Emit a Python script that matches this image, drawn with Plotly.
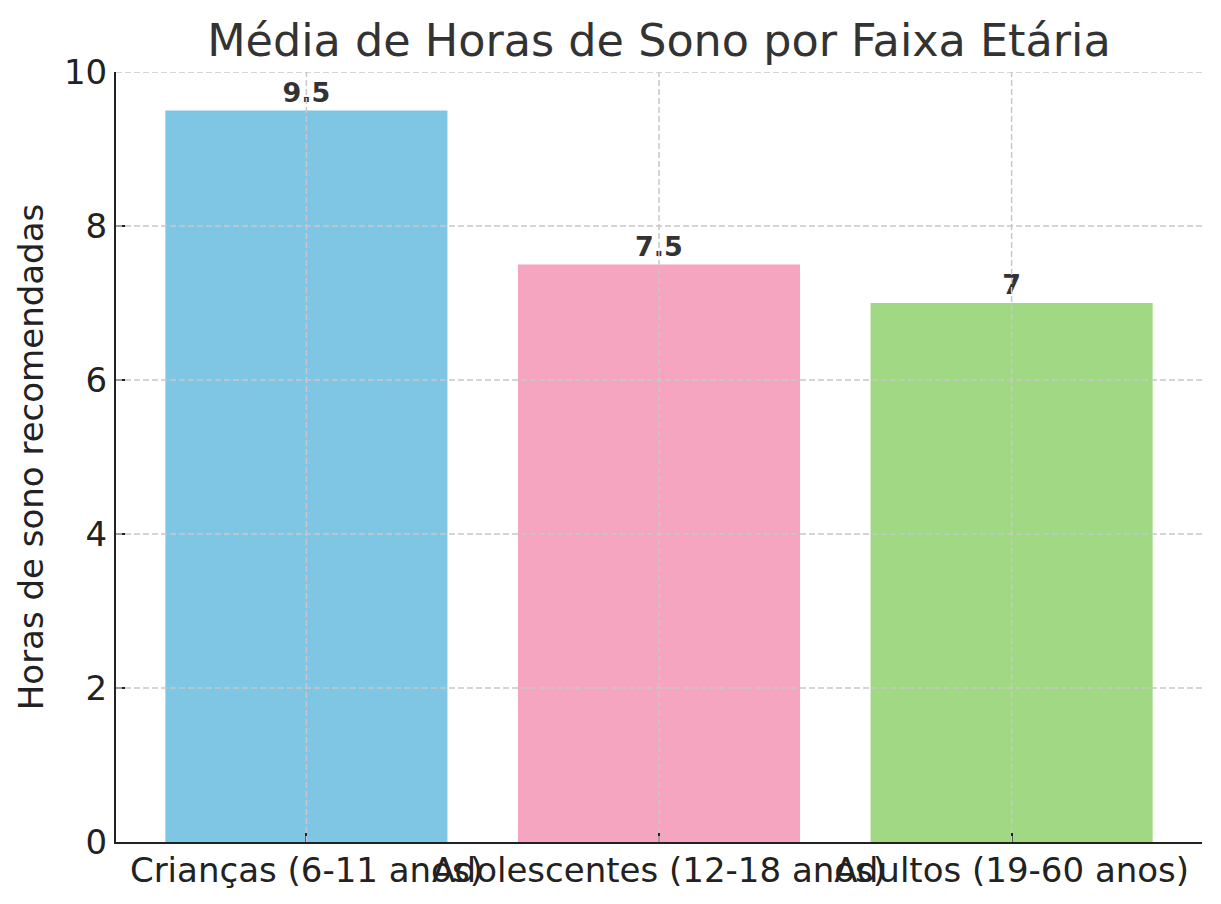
import plotly.graph_objects as go

categories = ["Crianças (6-11 anos)", "Adolescentes (12-18 anos)", "Adultos (19-60 anos)"]
hours = [9.5, 7.5, 7]
bar_colors = ["#7EC6E4", "#F6A5C0", "#A0D883"]
value_labels = ["9.5", "7.5", "7"]
y_ticks = [0, 2, 4, 6, 8, 10]

FONT = "DejaVu Sans"
GRID = "#C8C8C8"

fig = go.Figure(
    go.Bar(
        x=categories,
        y=hours,
        marker=dict(color=bar_colors, line=dict(width=0)),
        text=value_labels,
        textposition="outside",
        textfont=dict(family=FONT, size=27, color="#333333", weight="bold"),
        cliponaxis=False,
        width=0.8,
    )
)

# dashed grid drawn above the bars, as in the reference
for t in y_ticks[1:]:
    fig.add_shape(type="line", xref="paper", yref="y", x0=0, x1=1, y0=t, y1=t,
                  line=dict(color=GRID, width=1.5, dash="6px,3px"), layer="above")
for c in categories:
    fig.add_shape(type="line", xref="x", yref="paper", x0=c, x1=c, y0=0, y1=1,
                  line=dict(color=GRID, width=1.5, dash="6px,3px"), layer="above")

fig.update_layout(
    width=1221,
    height=904,
    margin=dict(l=108, r=27, t=64, b=70),
    paper_bgcolor="white",
    plot_bgcolor="white",
    showlegend=False,
    font=dict(family=FONT, color="#222222"),
    title=dict(
        text="Média de Horas de Sono por Faixa Etária",
        xref="paper",
        x=0.5,
        xanchor="center",
        y=0.9646,
        yanchor="middle",
        font=dict(family=FONT, size=44.5, color="#333333"),
    ),
)

fig.update_xaxes(
    range=[-0.54, 2.54],
    automargin=False,
    tickangle=0,
    showline=True,
    linecolor="#222222",
    linewidth=2,
    ticks="inside",
    ticklen=9,
    tickwidth=2,
    tickcolor="#222222",
    tickfont=dict(family=FONT, size=34, color="#222222"),
    ticklabelstandoff=-3,
    showgrid=False,
    layer="above traces",
    zeroline=False,
)

fig.update_yaxes(
    range=[0, 10],
    automargin=False,
    tickvals=y_ticks,
    showline=True,
    linecolor="#222222",
    linewidth=2,
    ticks="inside",
    ticklen=9,
    tickwidth=2,
    tickcolor="#222222",
    tickfont=dict(family=FONT, size=34, color="#222222"),
    ticklabelstandoff=0,
    showgrid=False,
    layer="above traces",
    zeroline=False,
    title=dict(
        text="Horas de sono recomendadas",
        font=dict(family=FONT, size=34, color="#222222"),
        standoff=10,
    ),
)

fig.write_html("out.html")
